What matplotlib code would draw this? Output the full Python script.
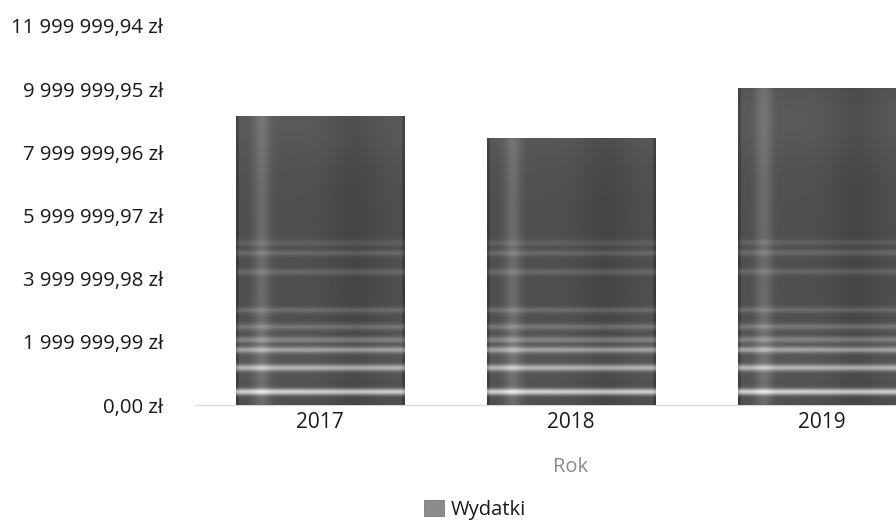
import numpy as np
import matplotlib
matplotlib.use("Agg")
import matplotlib.pyplot as plt
from matplotlib.ticker import FuncFormatter, FixedLocator
from matplotlib.patches import Rectangle

# ---- data ----
years = ["2017", "2018", "2019"]
wydatki = [9150000.0, 8450000.0, 10040000.0]
y_max = 11999999.94
n_ticks = 6
series_name = "Wydatki"
x_title = "Rok"

plt.rcParams['font.family'] = ['Open Sans', 'DejaVu Sans']

fig = plt.figure(figsize=(8.96, 5.25), dpi=100)
W, H = 896, 525
ax_left, ax_right_px = 194.5, 947.5
ax_top, ax_bottom = 26, 405
ax = fig.add_axes([ax_left / W, 1 - ax_bottom / H, (ax_right_px - ax_left) / W, (ax_bottom - ax_top) / H])

x = np.arange(len(years))
bars = ax.bar(x, wydatki, width=0.67, color="#555555", zorder=2)

# scanned-looking grey texture (style only), aligned to value axis
hmax = max(wydatki)
ny, nx = 500, 120
yy = np.linspace(0, hmax, ny)[:, None]
xx = np.linspace(0, 1, nx)[None, :]
band_centers = [0.41e6, 1.17e6, 1.74e6, 2.06e6, 2.47e6, 3.0e6, 4.21e6, 4.81e6, 5.13e6]
band_strength = [0.5, 0.38, 0.3, 0.18, 0.14, 0.11, 0.1, 0.1, 0.07]
tex = np.full((ny, nx), 0.31)
for c, s in zip(band_centers, band_strength):
    tex = tex + s * np.exp(-((yy - c) / 0.1e6) ** 2)
tex = tex + 0.11 * np.exp(-((xx - 0.15) / 0.05) ** 2)
tex = tex - 0.04 * np.exp(-((xx - 0.7) / 0.15) ** 2)
tex = tex + 0.04 * np.exp(-((yy - 9.0e6) / 1.5e6) ** 2)
tex = tex + 0.03 * np.exp(-((yy - 1.5e6) / 1.0e6) ** 2)
tex[:, :2] -= 0.08
tex[:, -2:] -= 0.08
tex = np.clip(tex, 0, 0.92)
for b in bars:
    x0, w, h = b.get_x(), b.get_width(), b.get_height()
    im = ax.imshow(tex, cmap="gray", vmin=0, vmax=1, origin="lower",
                   extent=(x0, x0 + w, 0, hmax), aspect="auto",
                   interpolation="bilinear", zorder=3)
    clip = Rectangle((x0, 0), w, h, transform=ax.transData)
    im.set_clip_path(clip)

ax.set_xlim(-0.5, len(years) - 0.5)
ax.set_ylim(0, y_max)

ticks = [y_max * i / n_ticks for i in range(n_ticks + 1)]
ax.yaxis.set_major_locator(FixedLocator(ticks))

def fmt(v, pos):
    s = f"{v:,.2f}".replace(",", " ").replace(".", ",")
    return s + " zł"

ax.yaxis.set_major_formatter(FuncFormatter(fmt))
ax.set_xticks(x)
ax.set_xticklabels(years)

for s in ["top", "right", "left"]:
    ax.spines[s].set_visible(False)
ax.spines["bottom"].set_color("#d8d8d8")
ax.spines["bottom"].set_linewidth(0.8)
ax.tick_params(axis="y", length=0, pad=22.5, labelsize=14.7, labelcolor="#1a1a1a")
ax.tick_params(axis="x", length=0, pad=5, labelsize=15, labelcolor="#1a1a1a")
ax.set_xlabel(x_title, color="#8a8a8a", fontsize=14.5, labelpad=17)

handle = Rectangle((0, 0), 1, 1, facecolor="#8c8c8c", edgecolor="#6a6a6a", linewidth=0.5)
fig.legend([handle], [series_name], loc="center", bbox_to_anchor=(475 / W, 1 - 510 / H),
           frameon=False, fontsize=14.5, handlelength=1.0, handleheight=0.8,
           handletextpad=0.3, labelcolor="#1a1a1a")

fig.savefig("out.png", dpi=100)
